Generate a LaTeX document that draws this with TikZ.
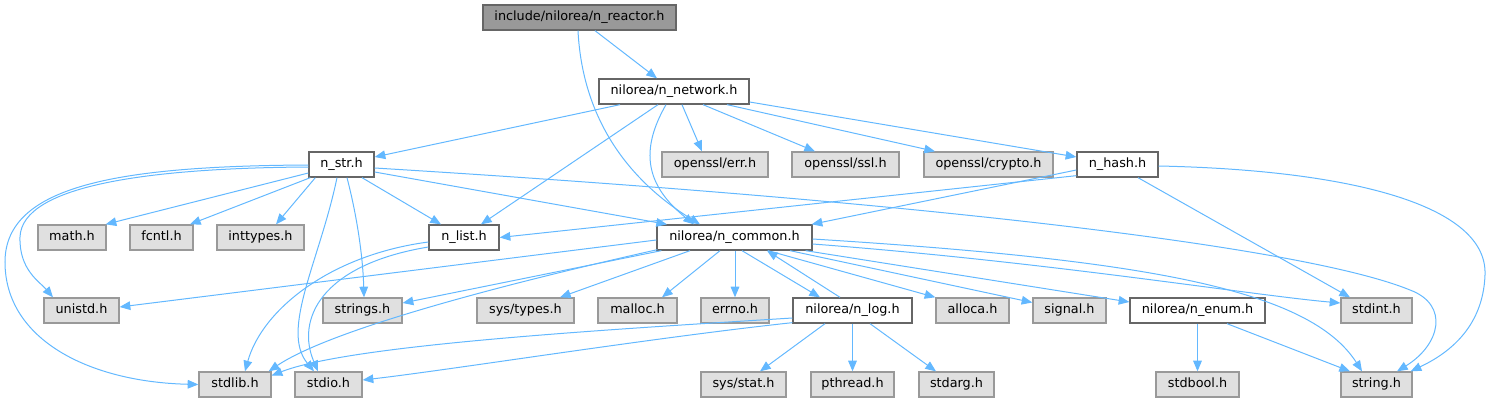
\documentclass[tikz,border=0pt]{standalone}
\usepackage{fontspec}
\setmainfont{DejaVu Sans}
\usetikzlibrary{arrows.meta,calc}
\definecolor{edgeblue}{HTML}{63B8FF}
\definecolor{boxgray}{HTML}{E0E0E0}
\definecolor{bordergray}{HTML}{999999}
\definecolor{borderdark}{HTML}{666666}
\definecolor{rootfill}{HTML}{999999}
\newcommand\mknode[6]{\node[#1, minimum width={(#4-#3)*0.75pt}] (#2) at ({(#3+#4)/2},#5) {#6};}
\tikzset{
  basebox/.style={line width=1pt, minimum height=18.75pt, inner sep=0pt,
    text height=7.2pt, text depth=2.2pt, font=\fontsize{9.6}{11}\selectfont},
  sysfile/.style={basebox, draw=bordergray, fill=boxgray},
  projfile/.style={basebox, draw=borderdark, fill=white},
  rootfile/.style={basebox, draw=borderdark, fill=rootfill},
  dep/.style={draw=edgeblue, line width=0.75pt, -{Triangle[length=8pt,width=6.5pt]}, color=edgeblue}
}
\begin{document}
\begin{tikzpicture}[x=0.75pt,y=-0.75pt]
\useasboundingbox (0,0) rectangle (1493,403);
% row 0
\mknode{rootfile}{reactor}{483}{676}{17.5}{include/nilorea/n\_reactor.h}
% row 1
\mknode{projfile}{network}{599}{749}{91.5}{nilorea/n\_network.h}
% row 2
\mknode{projfile}{nstr}{309}{374}{164.5}{n\_str.h}
\mknode{sysfile}{err}{662}{768}{164.5}{openssl/err.h}
\mknode{sysfile}{ssl}{792}{899}{164.5}{openssl/ssl.h}
\mknode{sysfile}{crypto}{924}{1053}{164.5}{openssl/crypto.h}
\mknode{projfile}{hash}{1077}{1158}{164.5}{n\_hash.h}
% row 3
\mknode{sysfile}{math}{38}{106}{237.5}{math.h}
\mknode{sysfile}{fcntl}{130}{193}{237.5}{fcntl.h}
\mknode{sysfile}{inttypes}{217}{304}{237.5}{inttypes.h}
\mknode{projfile}{nlist}{429}{499}{237.5}{n\_list.h}
\mknode{projfile}{common}{657}{812}{237.5}{nilorea/n\_common.h}
% row 4
\mknode{sysfile}{unistd}{44}{119}{310.5}{unistd.h}
\mknode{sysfile}{strings}{323}{402}{310.5}{strings.h}
\mknode{sysfile}{systypes}{477}{574}{310.5}{sys/types.h}
\mknode{sysfile}{malloc}{598}{677}{310.5}{malloc.h}
\mknode{sysfile}{errno}{701}{769}{310.5}{errno.h}
\mknode{projfile}{nlog}{793}{912}{310.5}{nilorea/n\_log.h}
\mknode{sysfile}{alloca}{936}{1009}{310.5}{alloca.h}
\mknode{sysfile}{signal}{1033}{1106}{310.5}{signal.h}
\mknode{projfile}{nenum}{1130}{1265}{310.5}{nilorea/n\_enum.h}
\mknode{sysfile}{stdint}{1341}{1412}{310.5}{stdint.h}
% row 5
\mknode{sysfile}{stdlib}{199}{271}{384.5}{stdlib.h}
\mknode{sysfile}{stdio}{295}{362}{384.5}{stdio.h}
\mknode{sysfile}{sysstat}{701}{786}{384.5}{sys/stat.h}
\mknode{sysfile}{pthread}{811}{894}{384.5}{pthread.h}
\mknode{sysfile}{stdarg}{919}{994}{384.5}{stdarg.h}
\mknode{sysfile}{stdbool}{1156}{1239}{384.5}{stdbool.h}
\mknode{sysfile}{string}{1341}{1412}{384.5}{string.h}

% reactor
\draw[dep] ($(reactor.south)+(15.5,0)$) -- ($(network.north)+(-17,0)$);
\draw[dep] ($(reactor.south)+(-1.5,0)$) .. controls (582,110) and (620,175) .. ($(common.north)+(-34.5,0)$);
% network
\draw[dep] ($(network.south)+(-54,0)$) -- ($(nstr.east)+(0,-7.5)$);
\draw[dep] ($(network.south)+(-16,0)$) -- ($(nlist.north)+(17,0)$);
\draw[dep] ($(network.south)+(-8,0)$) .. controls (640,150) and (645,185) .. ($(common.north)+(-40.5,0)$);
\draw[dep] ($(network.south)+(8,0)$) -- ($(err.north)+(-13,0)$);
\draw[dep] ($(network.south)+(29,0)$) -- ($(ssl.north)+(-30.5,0)$);
\draw[dep] ($(network.south)+(53,0)$) -- ($(crypto.north)+(-53.5,0)$);
\draw[dep] ($(network.east)+(0,10.5)$) -- ($(hash.west)+(0,-7.5)$);
% n_str
\draw[dep] ($(nstr.west)+(0,8.5)$) -- ($(math.north east)+(-1,0)$);
\draw[dep] ($(nstr.south west)+(2,0)$) -- ($(fcntl.north)+(28.5,0)$);
\draw[dep] ($(nstr.south west)+(7,0)$) -- ($(inttypes.north)+(15.5,0)$);
\draw[dep] ($(nstr.west)+(0,2.5)$) .. controls (150,168) and (22,185) .. (20,237) .. controls (19,270) and (40,282) .. ($(unistd.north)+(-28.5,0)$);
\draw[dep] ($(nstr.west)+(0,0.5)$) .. controls (120,166) and (5,185) .. (5,262) .. controls (5,340) and (90,382) .. (stdlib.west);
\draw[dep] ($(nstr.south)+(20.5,0)$) -- ($(nlist.north)+(-23,0)$);
\draw[dep] ($(nstr.east)+(0,7.5)$) -- ($(common.north)+(-67.5,0)$);
\draw[dep] ($(nstr.south)+(5.5,0)$) .. controls (358,220) and (363,260) .. ($(strings.north)+(1.5,0)$);
\draw[dep] ($(nstr.south)+(-4.5,0)$) .. controls (320,260) and (280,330) .. ($(stdio.north)+(-14.5,0)$);
\draw[dep] ($(nstr.east)+(0,3.5)$) .. controls (900,200) and (1300,245) .. (1410,290) .. controls (1450,305) and (1440,345) .. ($(string.north)+(20.5,0)$);
% n_hash
\draw[dep] ($(hash.south west)+(0,-2)$) -- (nlist.east);
\draw[dep] ($(hash.west)+(0,5.5)$) -- ($(common.north east)+(-1,0)$);
\draw[dep] ($(hash.south)+(20.5,0)$) -- ($(stdint.north)+(-26.5,0)$);
\draw[dep] ($(hash.east)+(0,1.5)$) .. controls (1350,170) and (1488,205) .. (1485,275) .. controls (1483,330) and (1445,355) .. ($(string.north east)+(-2,0)$);
% n_list
\draw[dep] ($(nlist.west)+(0,4.5)$) .. controls (330,255) and (262,310) .. ($(stdlib.north)+(10,0)$);
\draw[dep] ($(nlist.west)+(0,9.5)$) .. controls (320,265) and (296,320) .. ($(stdio.north)+(-10.5,0)$);
% n_common
\draw[dep] ($(common.west)+(0,2.5)$) -- ($(unistd.east)+(0,-3.5)$);
\draw[dep] ($(common.south west)+(5,0)$) -- ($(strings.east)+(0,-7.5)$);
\draw[dep] ($(common.south west)+(1,-1)$) .. controls (500,285) and (330,330) .. ($(stdlib.north east)+(-3,0)$);
\draw[dep] ($(common.south)+(-44.5,0)$) -- ($(systypes.north)+(34.5,0)$);
\draw[dep] ($(common.south)+(-14.5,0)$) -- ($(malloc.north)+(24.5,0)$);
\draw[dep] ($(common.south)+(0.5,0)$) -- (errno.north);
\draw[dep] ($(common.south)+(7.5,0)$) -- ($(nlog.north)+(-32.5,0)$);
\draw[dep] ($(common.south)+(33.5,0)$) -- (alloca.north west);
\draw[dep] ($(common.south)+(55.5,0)$) -- ($(signal.west)+(0,-8)$);
\draw[dep] ($(common.south east)+(-7,0)$) -- ($(nenum.west)+(0,-8.5)$);
\draw[dep] ($(common.east)+(0,6.5)$) .. controls (1050,262) and (1250,295) .. ($(stdint.west)+(0,-7.5)$);
\draw[dep] ($(common.east)+(0,1.5)$) .. controls (1150,260) and (1310,290) .. ($(string.north)+(-14.5,0)$);
% n_log
\draw[dep] ($(nlog.north)+(-12.5,0)$) -- ($(common.south)+(32.5,0)$);
\draw[dep] ($(nlog.west)+(0,7.5)$) .. controls (600,330) and (350,345) .. ($(stdlib.east)+(0,-9)$);
\draw[dep] ($(nlog.south west)+(0,-1)$) .. controls (650,338) and (450,370) .. ($(stdio.east)+(0,-4.5)$);
\draw[dep] ($(nlog.south)+(-27.5,0)$) -- ($(sysstat.north)+(16.5,0)$);
\draw[dep] (nlog.south) -- (pthread.north);
\draw[dep] ($(nlog.south)+(17.5,0)$) -- ($(stdarg.north)+(-20.5,0)$);
% n_enum
\draw[dep] (nenum.south) -- (stdbool.north);
\draw[dep] ($(nenum.south)+(29.5,0)$) -- ($(string.north)+(-26.5,0)$);
\end{tikzpicture}
\end{document}
